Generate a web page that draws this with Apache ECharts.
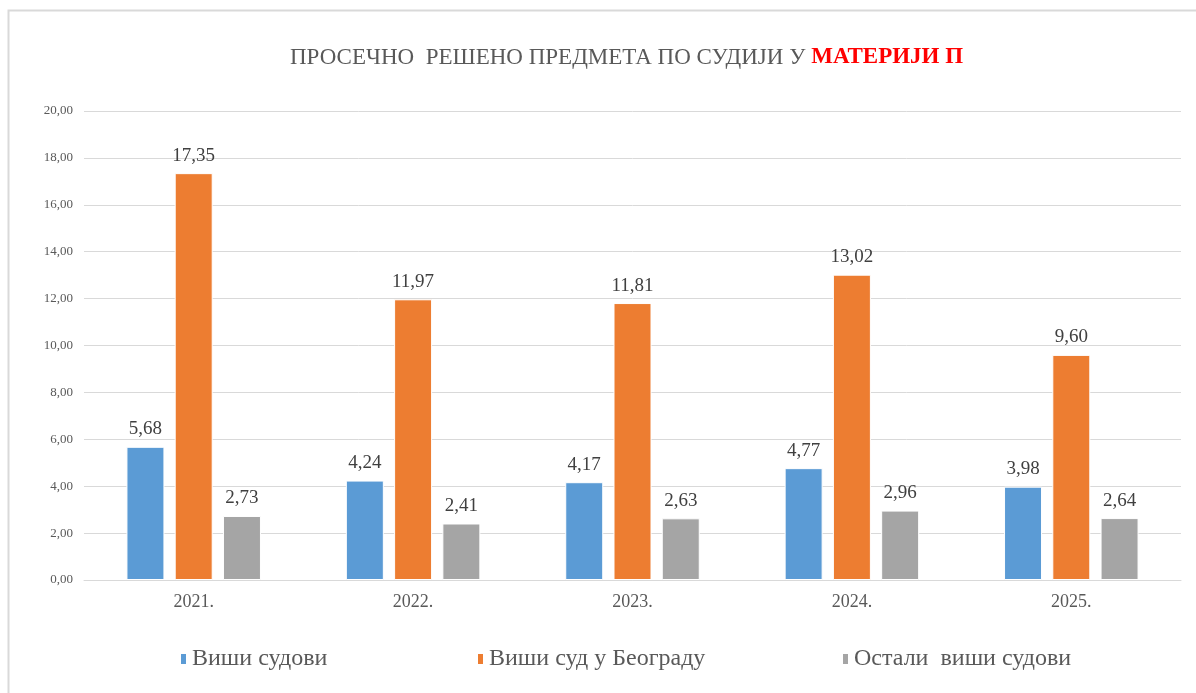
<!DOCTYPE html>
<html><head><meta charset="utf-8">
<script src="https://cdn.jsdelivr.net/npm/echarts@6/dist/echarts.min.js"></script>
<style>html,body{margin:0;padding:0;background:#fff}#c{width:1196px;height:693px}</style>
</head><body><div id="c"></div>
<script>
const categories = ['2021.', '2022.', '2023.', '2024.', '2025.'];
const seriesNames = ['Виши судови', 'Виши суд у Београду', 'Остали  виши судови'];
const visiSudovi = [5.68, 4.24, 4.17, 4.77, 3.98];
const visiSudBeograd = [17.35, 11.97, 11.81, 13.02, 9.60];
const ostaliVisiSudovi = [2.73, 2.41, 2.63, 2.96, 2.64];
const colors = ['#5B9BD5', '#ED7D31', '#A5A5A5'];
const serif = '"Liberation Serif", "DejaVu Serif", serif';
const fmt = v => v.toFixed(2).replace('.', ',');

const chart = echarts.init(document.getElementById('c'));
const mk = (name, data, color) => ({
  name, type: 'bar', data, barWidth: 38, barGap: '27%',
  itemStyle: { color, borderColor: '#fff', borderWidth: 1 },
  label: { show: true, position: 'top', distance: 8, formatter: p => fmt(p.value),
    fontFamily: serif, fontSize: 19, color: '#404040' }
});
const legendText = { fontFamily: serif, fontSize: 24, color: '#595959' };
const legendItem = (name, left) => ({
  data: [{ name, textStyle: legendText }], left, top: 642, icon: 'rect',
  itemWidth: 7, itemHeight: 12, itemGap: 0,
  textStyle: legendText
});
chart.setOption({
  animation: false,
  textStyle: { fontFamily: serif },
  title: {
    text: '{a|ПРОСЕЧНО  РЕШЕНО ПРЕДМЕТА ПО СУДИЈИ У }{b|МАТЕРИЈИ П}',
    left: 285, top: 41,
    textStyle: { fontWeight: 'normal', rich: {
      a: { fontFamily: serif, fontSize: 23, color: '#595959', fontWeight: 'normal' },
      b: { fontFamily: serif, fontSize: 23, color: '#FF0000', fontWeight: 'bold' }
    } }
  },
  graphic: [{ type: 'rect', shape: { x: 8.5, y: 10.5, width: 1300, height: 800 },
    style: { fill: 'none', stroke: '#D9D9D9', lineWidth: 2 }, silent: true }],
  legend: [legendItem(seriesNames[0], 174), legendItem(seriesNames[1], 471), legendItem(seriesNames[2], 836)],
  grid: { left: 84, right: 15, top: 111, bottom: 113, containLabel: false },
  xAxis: {
    type: 'category', data: categories,
    axisLine: { lineStyle: { color: '#D9D9D9', width: 1 } },
    axisTick: { show: false },
    axisLabel: { fontFamily: serif, fontSize: 18, color: '#595959', margin: 13 }
  },
  yAxis: {
    type: 'value', min: 0, max: 20, interval: 2,
    axisLine: { show: false }, axisTick: { show: false },
    splitLine: { lineStyle: { color: '#D9D9D9', width: 1 } },
    axisLabel: { fontFamily: serif, fontSize: 13, color: '#595959', margin: 11, formatter: v => fmt(v) }
  },
  series: [
    mk(seriesNames[0], visiSudovi, colors[0]),
    mk(seriesNames[1], visiSudBeograd, colors[1]),
    mk(seriesNames[2], ostaliVisiSudovi, colors[2])
  ]
});
</script></body></html>
